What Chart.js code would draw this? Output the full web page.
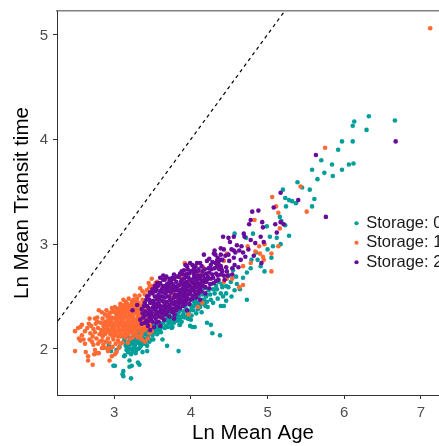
<!DOCTYPE html>
<html>
<head>
<meta charset="utf-8">
<script src="https://cdn.jsdelivr.net/npm/chart.js@4"></script>
<style>
html, body { margin: 0; padding: 0; background: #fff; overflow: hidden; }
#wrap { width: 439px; height: 446px; overflow: hidden; }
</style>
</head>
<body>
<div id="wrap"><canvas id="ageChart" width="453" height="446"></canvas></div>
<script>
const legendLabels = ['Storage: 0', 'Storage: 1', 'Storage: 2'];
const seriesColors = ['#009E9A', '#FF6A33', '#6A0A9A'];
const xTicks = [3, 4, 5, 6, 7];
const yTicks = [2, 3, 4, 5];
const oneToOne = [2, 6];

// values as [ln mean age, ln mean transit time]
const storage0 = [
[6.32,4.22],[6.66,4.18],[6.13,4.17],[6.11,4.13],[6.29,4.09],[5.97,3.98],[6.11,3.98],[5.92,3.90],[5.70,3.80],[5.84,3.76],
[6.06,3.76],[6.12,3.77],[5.58,3.71],[5.97,3.71],[5.74,3.68],[5.85,3.65],[5.65,3.62],[5.39,3.59],[5.45,3.54],[5.55,3.52],
[5.20,3.52],[5.23,3.44],[5.61,3.43],[5.28,3.42],[5.32,3.41],[5.37,3.39],[5.24,3.36],[5.58,3.36],[5.16,3.26],[5.18,3.22],
[5.23,3.18],[4.99,3.17],[5.28,3.08],[4.81,3.10],[5.03,3.07],[4.72,3.06],[4.57,3.10],[5.17,3.00],[5.07,2.98],[5.12,3.06],
[5.05,2.87],[4.79,2.85],[4.87,2.85],[4.91,2.79],[4.73,2.73],[4.96,2.74],[4.55,2.75],[4.59,2.69],[4.73,2.47],[4.64,2.57],
[4.57,2.56],[4.46,2.53],[4.53,2.50],[4.39,2.53],[4.31,2.53],[4.46,2.46],[4.43,2.41],[4.39,2.41],[4.26,2.47],[4.21,2.45],
[4.17,2.47],[4.19,2.41],[4.12,2.40],[4.04,2.41],[3.99,2.42],[3.95,2.37],[3.91,2.42],[3.86,2.37],[3.82,2.39],[3.97,2.29],
[3.88,2.26],[3.85,2.23],[3.76,2.21],[4.02,2.21],[4.05,2.21],[4.21,2.25],[4.26,2.23],[4.41,2.59],[4.49,2.59],[4.36,2.64],
[2.99,1.84],[3.01,1.84],[3.12,1.79],[3.11,1.76],[3.12,1.74],[3.22,1.72],[3.20,1.83],[3.23,1.84],[3.31,1.87],[3.33,1.85],
[3.20,1.89],[3.14,1.94],[3.13,1.93],[3.03,1.99],[3.07,2.02],[2.93,2.04],[2.96,1.98],[3.37,1.97],[3.43,1.98],[3.43,2.03],
[3.63,2.09],[3.69,2.03],[3.84,1.98],[3.75,2.20],[3.86,2.23],[3.99,2.22],[4.28,2.15],[4.38,2.13],[4.00,2.28],
[3.13,2.08],[3.16,2.05],[3.18,2.02],[3.21,2.00],[3.24,1.98],[3.19,2.07],[3.23,2.05],[3.27,2.03],[3.30,2.06],[3.26,2.09],
[3.22,2.11],[3.17,2.12],[3.28,2.12],[3.32,2.10],[3.35,2.07],[3.38,2.10],[3.34,2.14],[3.30,2.16],[3.26,2.17],[3.40,2.14],
[3.44,2.12],[3.47,2.16],[3.42,2.18],[3.37,2.19],[3.50,2.13],[3.54,2.18],[3.50,2.20],[3.46,2.22],[3.58,2.21],[3.62,2.24],
[3.56,2.26],[3.66,2.27],[3.70,2.30],[3.63,2.31],[3.74,2.28],[3.78,2.32],[3.72,2.34],[3.81,2.30],[3.84,2.35],[3.90,2.33],
[3.79,2.37],[3.94,2.31],[3.98,2.36],[4.03,2.37],[4.08,2.44],[4.00,2.47],[4.15,2.52],[4.10,2.50],[4.23,2.56],[4.18,2.58],
[4.33,2.60],[4.27,2.62],[3.29,1.99],[3.18,1.97],[3.14,2.10],[3.41,2.06],[3.52,2.23],[3.68,2.22],[3.93,2.40],[4.06,2.46],
[3.15,2.03],[3.20,2.04],[3.25,2.01],[3.24,2.07],[3.29,2.08],[3.33,2.05],[3.36,2.12],[3.39,2.17],[3.44,2.15],[3.48,2.19],
[3.52,2.16],[3.55,2.22],[3.60,2.19],[3.64,2.25],[3.68,2.28],[3.71,2.25],[3.76,2.30],[3.80,2.27],[3.83,2.32],[3.87,2.30],
[3.91,2.36],[3.96,2.34],[4.01,2.39],[4.05,2.42],[4.09,2.38],[4.13,2.45],[4.17,2.43],[4.20,2.50],[4.25,2.52],[4.29,2.57],
[3.22,1.95],[3.28,1.96],[3.16,1.99],[3.42,2.10],[3.48,2.09],[4.14,2.35],[4.22,2.40],[4.29,2.44],[4.35,2.48],[4.42,2.50],
[4.34,2.57],[4.40,2.62],[4.46,2.60],[4.52,2.64],[4.60,2.62],[4.50,2.70],[4.68,2.68],[4.78,2.77],[4.85,2.92],[5.00,2.95],
[3.31,2.00],[3.35,2.03],[3.39,2.05],[3.46,2.07],[3.51,2.09],[3.56,2.14],[3.61,2.16],[3.66,2.20],[3.70,2.21],[3.74,2.24],
[3.78,2.25],[3.83,2.27],[3.88,2.31],[3.92,2.30],[3.96,2.29],[4.01,2.32],[4.07,2.34],[4.11,2.42],[4.16,2.47],[4.19,2.52],
[3.19,2.00],[3.26,2.06],[3.33,2.01],[3.38,2.15],[3.45,2.18],[3.58,2.18],[3.62,2.21],[3.72,2.28],[3.85,2.28],[4.04,2.45]
];
const storage1 = [
[7.12,5.06],[5.75,3.92],[5.43,3.55],[5.06,3.45],[5.11,3.36],[5.14,3.30],[5.51,3.31],[4.83,3.23],[5.16,3.15],[4.96,3.00],
[4.89,2.98],[4.74,2.98],[4.84,2.93],[4.90,2.91],[4.94,2.88],[5.05,2.91],[5.14,2.98],[5.05,2.74],[4.95,2.85],[4.78,2.82],
[4.68,2.79],[4.43,2.84],[4.47,2.91],[4.47,2.67],[4.54,2.67],[4.43,2.64],[4.63,2.59],[4.68,2.61],[3.92,2.82],[4.16,2.78],
[4.15,2.44],[4.09,2.40],[3.97,2.33],[3.86,2.69],[3.49,2.67],[3.45,2.63],[3.54,2.63],[3.56,2.60],[3.43,2.56],[3.80,2.52],
[2.49,1.98],[2.49,2.17],[2.53,2.20],[2.56,2.21],[2.58,2.23],[2.54,2.10],[2.58,2.13],[2.60,2.09],[2.56,2.08],[2.62,2.05],
[2.63,1.97],[2.66,1.93],[2.66,1.89],[2.72,1.85],[2.68,2.29],[2.75,2.29],[2.80,2.37],[2.84,2.35],[2.65,2.20],[2.69,2.15],
[2.73,2.04],[2.77,1.96],[2.80,1.96],[2.75,1.99],[2.84,2.01],[2.94,1.89],[2.97,1.93],[3.01,1.95],[3.03,1.97],[2.90,2.01],
[2.90,2.37],[2.97,2.39],[3.01,2.40],[3.12,2.47],[3.19,2.48],[3.27,2.51],[3.34,2.58],[3.43,2.56],[3.56,2.64],[3.93,2.81],
[2.70,2.22],[2.73,2.19],[2.76,2.24],[2.79,2.20],[2.72,2.12],[2.77,2.10],[2.81,2.14],[2.84,2.08],[2.79,2.05],[2.86,2.04],
[2.89,2.07],[2.83,2.18],[2.86,2.22],[2.89,2.26],[2.85,2.29],[2.91,2.31],[2.94,2.34],[2.88,2.33],[2.97,2.30],[3.00,2.36],
[3.04,2.33],[3.07,2.39],[3.10,2.42],[3.14,2.38],[3.17,2.43],[3.20,2.40],[3.23,2.45],[3.26,2.41],[3.29,2.47],[3.32,2.44],
[2.92,2.10],[2.95,2.14],[2.99,2.09],[3.02,2.13],[3.05,2.08],[2.93,2.18],[2.97,2.21],[3.01,2.18],[3.05,2.22],[3.08,2.17],
[3.11,2.21],[3.14,2.16],[3.17,2.20],[3.21,2.17],[3.24,2.21],[3.28,2.19],[2.96,2.26],[3.00,2.29],[3.04,2.27],[3.07,2.31],
[3.10,2.26],[3.13,2.30],[3.16,2.25],[3.19,2.29],[3.22,2.25],[3.25,2.30],[3.28,2.26],[3.31,2.31],[3.34,2.27],[3.37,2.32],
[3.12,2.34],[3.16,2.36],[3.20,2.33],[3.24,2.36],[3.28,2.34],[3.32,2.37],[3.36,2.35],[3.39,2.29],[3.31,2.22],[3.35,2.19],
[3.40,2.24],[3.44,2.20],[3.26,2.13],[3.31,2.11],[3.36,2.09],[3.40,2.07],[3.44,2.10],[3.09,2.12],[3.02,2.05],[3.06,2.01],
[3.11,2.06],[2.99,2.24],[3.03,2.16],[3.07,2.25],[3.15,2.11],[2.91,2.20],[2.88,2.14],[2.82,2.25],[2.78,2.30],[3.42,2.40],
[3.37,2.47],[3.33,2.51],[3.52,2.42],[3.61,2.30],[3.70,2.43],[3.75,2.52],[3.84,2.47],[3.92,2.58],[4.03,2.62],[4.12,2.71],
[2.94,2.23],[2.96,2.17],[2.98,2.12],[3.00,2.21],[3.02,2.25],[3.03,2.31],[3.06,2.19],[3.06,2.35],[3.09,2.29],[3.09,2.23],
[3.09,2.37],[3.12,2.18],[3.12,2.24],[3.12,2.28],[3.15,2.14],[3.15,2.33],[3.15,2.40],[3.18,2.23],[3.18,2.27],[3.18,2.38],
[3.21,2.21],[3.21,2.31],[3.21,2.36],[3.24,2.15],[3.24,2.27],[3.24,2.33],[3.24,2.41],[3.27,2.22],[3.27,2.16],[3.27,2.38],
[3.30,2.25],[3.30,2.34],[3.30,2.40],[3.33,2.18],[3.33,2.24],[3.33,2.30],[3.36,2.21],[3.36,2.26],[3.36,2.41],[3.39,2.35],
[3.42,2.28],[3.42,2.33],[3.45,2.26],[3.47,2.22],[2.92,2.27],[2.95,2.29],[2.87,2.18],[2.85,2.12],[2.90,2.16],[2.94,2.06],
[2.98,2.02],[3.00,2.15],[3.05,2.12],[3.08,2.05],[3.12,2.13],[3.18,2.14],[3.21,2.10],[3.24,2.18],[2.67,2.24],[2.71,2.07],
[2.75,2.16],[2.78,2.26],[2.81,2.07],[2.84,2.15],[2.86,2.01],[2.92,1.98],[2.95,2.01],[2.74,1.95],[2.68,2.09],[2.62,2.17],
[3.38,2.24],[3.41,2.20],[3.46,2.15],[3.49,2.17],[3.18,2.06],[3.24,2.11],[3.31,2.19],[3.36,2.16],[3.29,2.28],[3.27,2.44],
[2.87,2.25],[2.90,2.23],[2.93,2.31],[2.96,2.35],[2.99,2.19],[3.02,2.34],[3.05,2.30],[3.08,2.14],[3.10,2.33],[3.11,2.38],
[3.13,2.22],[3.14,2.42],[3.16,2.18],[3.17,2.31],[3.19,2.36],[3.20,2.19],[3.22,2.42],[3.23,2.23],[3.25,2.38],[3.26,2.25],
[3.29,2.15],[3.29,2.37],[3.32,2.20],[3.34,2.33],[3.34,2.41],[3.35,2.13],[3.38,2.38],[3.40,2.18],[3.38,2.43],[3.30,2.44],
[3.49,2.60],[3.52,2.56],[3.46,2.59],[3.40,2.52],[3.37,2.55],[3.30,2.48],[3.25,2.47],[3.15,2.45],[3.08,2.43],[3.04,2.38]
];
const storage2 = [
[6.67,3.98],[5.63,3.85],[5.17,3.49],[5.40,3.42],[5.08,3.35],[4.88,3.32],[4.80,3.31],[5.76,3.26],[4.78,3.23],[4.76,3.19],
[4.93,3.21],[4.94,3.16],[5.10,3.19],[5.17,3.21],[5.21,3.19],[5.12,3.11],[4.56,3.07],[4.49,3.06],[4.51,3.02],[4.42,3.07],
[4.69,3.10],[4.70,3.07],[4.60,2.99],[4.56,2.94],[4.63,2.94],[4.66,2.98],[4.53,2.95],[4.43,2.95],[4.31,2.94],[4.39,2.96],
[4.17,2.90],[4.21,2.84],[4.08,2.82],[4.32,2.90],[4.35,2.87],[4.39,2.90],[4.41,2.85],[4.28,2.83],[4.32,2.82],[4.36,2.82],
[4.34,2.79],[4.31,2.77],[4.39,2.79],[4.91,3.07],[4.78,3.04],[4.84,3.01],[4.95,3.02],[4.71,2.88],[4.65,2.85],[4.56,2.87],
[4.46,2.78],[4.47,2.74],[4.54,2.77],[4.54,2.71],[4.39,2.71],[4.36,2.66],[4.92,2.82],[4.14,2.79],[3.93,2.80],[3.95,2.79],
[4.04,2.77],[4.02,2.80],[3.64,2.70],[3.64,2.66],[3.78,2.67],[4.06,2.74],[4.23,2.77],[4.28,2.71],[4.21,2.66],[4.30,2.63],
[4.19,2.53],[3.24,2.37],[3.30,2.42],[3.43,2.50],[3.56,2.63],[3.75,2.66],[3.91,2.75],[3.99,2.82],[4.12,2.82],[4.30,2.91],
[3.47,2.18],[3.60,2.22],[3.78,2.29],[3.95,2.37],[4.12,2.47],
[3.38,2.30],[3.42,2.27],[3.46,2.30],[3.50,2.26],[3.54,2.29],[3.58,2.26],[3.62,2.30],[3.66,2.33],[3.70,2.36],[3.74,2.39],
[3.41,2.36],[3.45,2.39],[3.49,2.35],[3.53,2.38],[3.57,2.34],[3.61,2.38],[3.65,2.41],[3.69,2.45],[3.73,2.47],[3.77,2.43],
[3.47,2.44],[3.51,2.46],[3.55,2.43],[3.59,2.47],[3.63,2.50],[3.67,2.53],[3.71,2.55],[3.75,2.58],[3.79,2.52],[3.83,2.49],
[3.50,2.53],[3.54,2.55],[3.58,2.52],[3.62,2.57],[3.66,2.60],[3.70,2.62],[3.74,2.63],[3.78,2.60],[3.82,2.56],[3.86,2.53],
[3.57,2.60],[3.60,2.63],[3.82,2.40],[3.86,2.44],[3.90,2.41],[3.94,2.46],[3.98,2.43],[4.02,2.48],[4.06,2.52],[4.10,2.56],
[3.81,2.64],[3.85,2.61],[3.89,2.58],[3.93,2.55],[3.97,2.52],[4.01,2.56],[4.05,2.59],[4.09,2.63],[4.13,2.61],[4.17,2.64],
[3.84,2.69],[3.88,2.66],[3.92,2.63],[3.96,2.60],[4.00,2.65],[4.04,2.68],[4.08,2.70],[4.12,2.67],[4.16,2.70],[4.20,2.72],
[3.90,2.71],[3.94,2.69],[3.98,2.72],[4.02,2.74],[4.10,2.76],[4.18,2.76],[3.44,2.22],[3.52,2.21],[3.36,2.38],[3.40,2.44],
[3.46,2.47],[3.53,2.50],[3.60,2.55],[3.69,2.58],[3.86,2.49],[3.90,2.50],[3.68,2.40],[3.72,2.42],[3.56,2.40],[3.64,2.45],
[3.76,2.35],[3.80,2.45],[3.84,2.52],[3.92,2.52],[3.58,2.31],[3.70,2.50],[3.48,2.33],[3.52,2.41],[3.44,2.33],[3.66,2.37],
[3.40,2.25],[3.44,2.26],[3.40,2.32],[3.43,2.41],[3.46,2.36],[3.48,2.28],[3.50,2.31],[3.50,2.39],[3.51,2.43],[3.54,2.33],
[3.55,2.25],[3.55,2.36],[3.56,2.47],[3.56,2.50],[3.58,2.43],[3.60,2.36],[3.60,2.41],[3.60,2.50],[3.62,2.34],[3.62,2.46],
[3.63,2.54],[3.63,2.60],[3.65,2.28],[3.65,2.37],[3.66,2.49],[3.67,2.44],[3.67,2.57],[3.68,2.33],[3.69,2.62],[3.70,2.40],
[3.72,2.31],[3.72,2.50],[3.72,2.59],[3.73,2.38],[3.74,2.54],[3.75,2.44],[3.75,2.47],[3.76,2.62],[3.77,2.38],[3.78,2.49],
[3.78,2.56],[3.79,2.33],[3.80,2.41],[3.80,2.58],[3.81,2.50],[3.81,2.37],[3.82,2.45],[3.83,2.60],[3.84,2.42],[3.84,2.56],
[3.85,2.48],[3.86,2.39],[3.87,2.56],[3.87,2.64],[3.88,2.46],[3.88,2.52],[3.89,2.62],[3.90,2.44],[3.90,2.55],[3.91,2.60],
[3.91,2.67],[3.92,2.48],[3.93,2.43],[3.93,2.59],[3.94,2.51],[3.95,2.64],[3.95,2.72],[3.96,2.48],[3.96,2.56],[3.97,2.68],
[3.98,2.61],[3.99,2.47],[3.99,2.54],[4.00,2.59],[4.00,2.74],[4.01,2.66],[4.02,2.51],[4.03,2.57],[4.03,2.63],[4.04,2.71],
[4.05,2.55],[4.06,2.62],[4.06,2.66],[4.07,2.49],[4.08,2.59],[4.09,2.67],[4.09,2.74],[4.10,2.53],[4.11,2.62],[4.12,2.58],
[4.13,2.70],[4.14,2.55],[4.14,2.65],[4.15,2.74],[4.16,2.60],[4.18,2.67],[4.19,2.59],[4.20,2.64],[4.22,2.69],[4.24,2.73],
[4.25,2.62],[4.26,2.67],[4.27,2.76],[4.24,2.58],[4.29,2.68],[4.33,2.72],[4.35,2.70],[4.37,2.76],[4.40,2.76],[4.43,2.70],
[3.37,2.34],[3.34,2.28],[3.36,2.24],[3.39,2.41],[3.42,2.47],[3.45,2.51],[3.47,2.54],[3.50,2.57],[3.53,2.60],[3.55,2.57],
[3.58,2.62],[3.60,2.68],[3.66,2.66],[3.68,2.69],[3.72,2.67],[3.72,2.64],[3.76,2.68],[3.78,2.71],[3.82,2.69],[3.86,2.72],
[3.88,2.74],[3.96,2.76],[4.06,2.79],[4.44,2.66],[4.48,2.70],[4.57,2.80],[4.62,2.78],[4.50,2.84],[4.45,2.89],[4.39,2.85],
[4.34,2.84],[4.26,2.80],[4.24,2.86],[4.49,2.90],[4.58,2.92],[4.68,2.92],[4.75,2.95],[4.82,2.89],[4.33,2.65],[4.41,2.74]
];

const toPoints = pairs => pairs.map(p => ({ x: p[0], y: p[1] }));
const dotRadius = 2.3;
const noMargins = s => { s.paddingTop = 0; s.paddingBottom = 0; s.paddingLeft = 0; s.paddingRight = 0; };

// moves the legend on top of the panel, the library has no free position for it
const legendPlacer = {
    id: 'legendPlacer',
    afterLayout(chart) {
        chart.legend.left = 352;
        chart.legend.top = 212;
    }
};

new Chart(document.getElementById('ageChart').getContext('2d'), {
    type: 'scatter',
    plugins: [legendPlacer],
    data: {
        datasets: [
            { label: legendLabels[0], data: toPoints(storage0), backgroundColor: seriesColors[0], borderColor: seriesColors[0], pointRadius: dotRadius, borderWidth: 0, order: 4 },
            { label: legendLabels[1], data: toPoints(storage1), backgroundColor: seriesColors[1], borderColor: seriesColors[1], pointRadius: dotRadius, borderWidth: 0, order: 3 },
            { label: legendLabels[2], data: toPoints(storage2), backgroundColor: seriesColors[2], borderColor: seriesColors[2], pointRadius: dotRadius, borderWidth: 0, order: 2 },
            {
                label: '1:1',
                type: 'line',
                data: oneToOne.map(v => ({ x: v, y: v })),
                borderColor: '#000',
                borderWidth: 1.2,
                borderDash: [3.5, 3.5],
                pointRadius: 0,
                order: 1
            }
        ]
    },
    options: {
        responsive: false,
        animation: false,
        layout: { padding: 0 },
        plugins: {
            tooltip: { enabled: false },
            legend: {
                position: 'chartArea',
                align: 'start',
                labels: {
                    filter: item => item.datasetIndex < 3,
                    sort: (a, b) => a.datasetIndex - b.datasetIndex,
                    usePointStyle: true,
                    pointStyle: 'circle',
                    boxWidth: 3,
                    boxHeight: 3,
                    padding: 3,
                    color: '#1a1a1a',
                    font: { family: '"Liberation Sans"', size: 16.5 }
                }
            }
        },
        scales: {
            x: {
                type: 'linear',
                min: 2.255,
                max: 7.365,
                afterFit: s => { s.height = 51; noMargins(s); },
                afterBuildTicks: s => { s.ticks = xTicks.map(v => ({ value: v })); },
                title: { display: true, text: 'Ln Mean Age', color: '#000', font: { family: '"Liberation Sans"', size: 20.5 }, padding: { top: 4, bottom: 0 } },
                ticks: { color: '#4d4d4d', font: { family: '"Liberation Sans"', size: 15 }, maxRotation: 0, padding: 5 },
                grid: { drawOnChartArea: false, tickLength: 4, tickColor: '#333' },
                border: { color: '#333', width: 1 }
            },
            top: {
                type: 'linear',
                position: 'top',
                min: 2.255,
                max: 7.365,
                afterFit: s => { s.height = 11; noMargins(s); },
                ticks: { display: false },
                grid: { display: false },
                border: { color: '#808080', width: 1.5 }
            },
            y: {
                type: 'linear',
                min: 1.561,
                max: 5.224,
                afterFit: s => { s.width = 57; noMargins(s); },
                afterBuildTicks: s => { s.ticks = yTicks.map(v => ({ value: v })); },
                title: { display: true, text: 'Ln Mean Transit time', color: '#000', font: { family: '"Liberation Sans"', size: 20.5 }, padding: { top: 10, bottom: 0 } },
                ticks: { color: '#4d4d4d', font: { family: '"Liberation Sans"', size: 15 }, padding: 5, labelOffset: 1 },
                grid: { drawOnChartArea: false, tickLength: 4, tickColor: '#333' },
                border: { color: '#333', width: 1 }
            }
        }
    }
});
</script>
</body>
</html>
